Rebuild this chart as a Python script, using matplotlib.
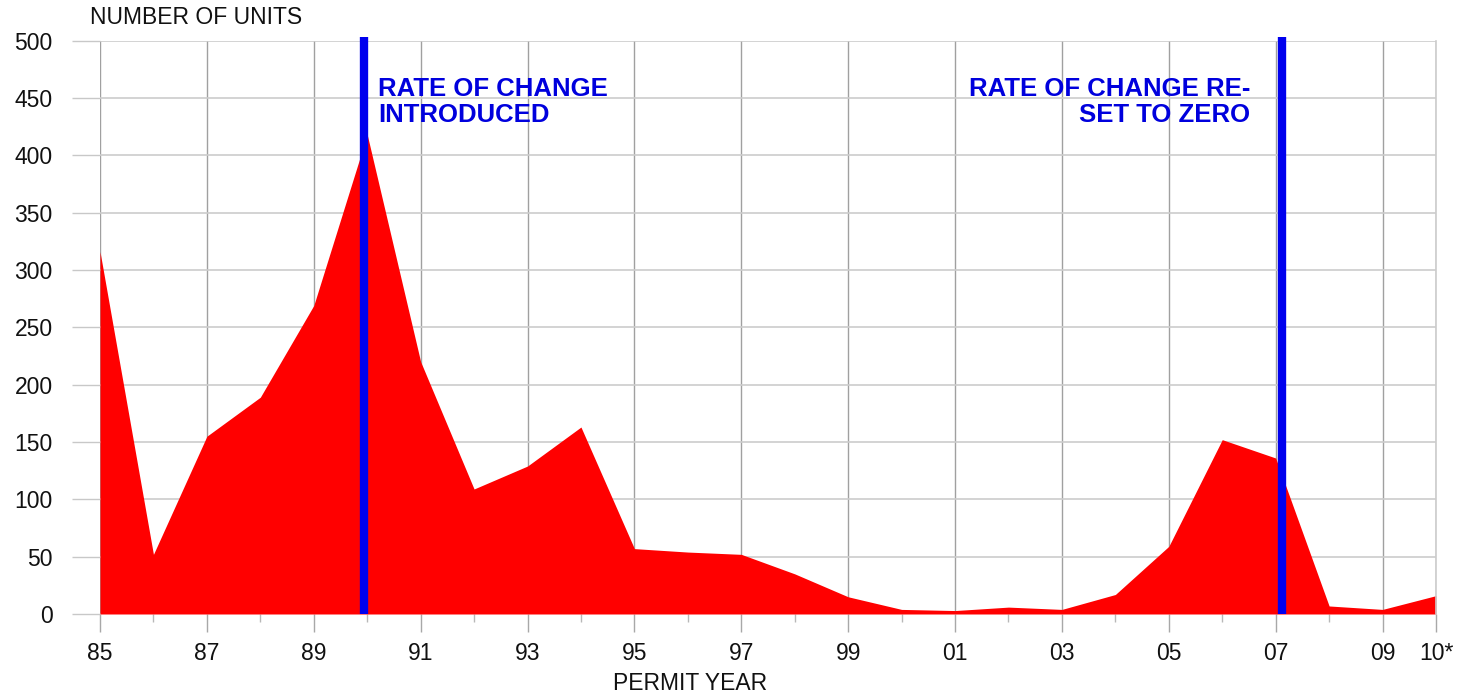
import matplotlib
matplotlib.use("Agg")
import matplotlib.pyplot as plt

# ---- data ----
years = [1985, 1986, 1987, 1988, 1989, 1990, 1991, 1992, 1993, 1994, 1995, 1996, 1997,
         1998, 1999, 2000, 2001, 2002, 2003, 2004, 2005, 2006, 2007, 2008, 2009, 2010]
units = [316, 52, 155, 189, 269, 418, 220, 109, 129, 163, 57, 54, 52,
         35, 15, 4, 3, 6, 4, 17, 59, 152, 136, 7, 4, 16]
label_years = [1985, 1987, 1989, 1991, 1993, 1995, 1997, 1999, 2001, 2003, 2005, 2007, 2009, 2010]
x_labels = ['85', '87', '89', '91', '93', '95', '97', '99', '01', '03', '05', '07', '09', '10*']
minor_years = [1986, 1988, 1990, 1992, 1994, 1996, 1998, 2000, 2002, 2004, 2006, 2008]
y_ticks = [0, 50, 100, 150, 200, 250, 300, 350, 400, 450, 500]
event_years = [1989.94, 2007.12]
event_labels = ['RATE OF CHANGE\nINTRODUCED', 'RATE OF CHANGE RE-\nSET TO ZERO']

plt.rcParams['font.family'] = ['Liberation Sans', 'DejaVu Sans']

W, H = 1463, 693
fig = plt.figure(figsize=(W / 100, H / 100), dpi=100)
fig.patch.set_facecolor('white')
ax = fig.add_axes([100 / W, (H - 614) / H, 1336 / W, (614 - 40.5) / H])

ax.fill_between(years, units, 0, color='#ff0000', linewidth=0, zorder=2)

ax.set_xlim(1985, 2010)
ax.set_ylim(0, 500)

ax.set_xticks(label_years)
ax.set_xticklabels(x_labels)
ax.set_xticks(minor_years, minor=True)
ax.set_yticks(y_ticks)
ax.set_yticklabels([str(v) for v in y_ticks])

ax.tick_params(axis='x', which='major', length=13, width=1, color='#a8a8a8',
               pad=7, labelsize=16.5, labelcolor='#111111')
ax.tick_params(axis='x', which='minor', length=6, width=1, color='#b8b8b8')
ax.tick_params(axis='y', which='major', length=20, width=1, color='#c8c8c8',
               pad=14, labelsize=16.5, labelcolor='#111111')

ax.grid(axis='y', color='#cccccc', linewidth=1.2, zorder=0)
ax.grid(axis='x', which='major', color='#a0a0a0', linewidth=1.0, zorder=0)
ax.set_axisbelow(True)

for s in ['left', 'top', 'bottom']:
    ax.spines[s].set_visible(False)
ax.spines['right'].set_color('#cccccc')
ax.spines['right'].set_linewidth(1.2)

# event lines
for ev in event_years:
    ax.plot([ev, ev], [0, 503], color='#0000ee', linewidth=6, solid_capstyle='butt',
            zorder=3, clip_on=False)

ax.text(1990.2, 446, event_labels[0], color='#0000dd', fontsize=18.5, fontweight='bold',
        ha='left', va='center', linespacing=1.1, zorder=4)
ax.text(2006.53, 446, event_labels[1], color='#0000dd', fontsize=18.5, fontweight='bold',
        ha='right', va='center', multialignment='right', linespacing=1.1, zorder=4)

fig.text(90 / W, 1 - 18 / H, 'NUMBER OF UNITS', fontsize=16.5, color='#111111',
         ha='left', va='center')
fig.text(690 / W, 1 - 683 / H, 'PERMIT YEAR', fontsize=16.5, color='#111111',
         ha='center', va='center')

fig.savefig('out.png', dpi=100)
